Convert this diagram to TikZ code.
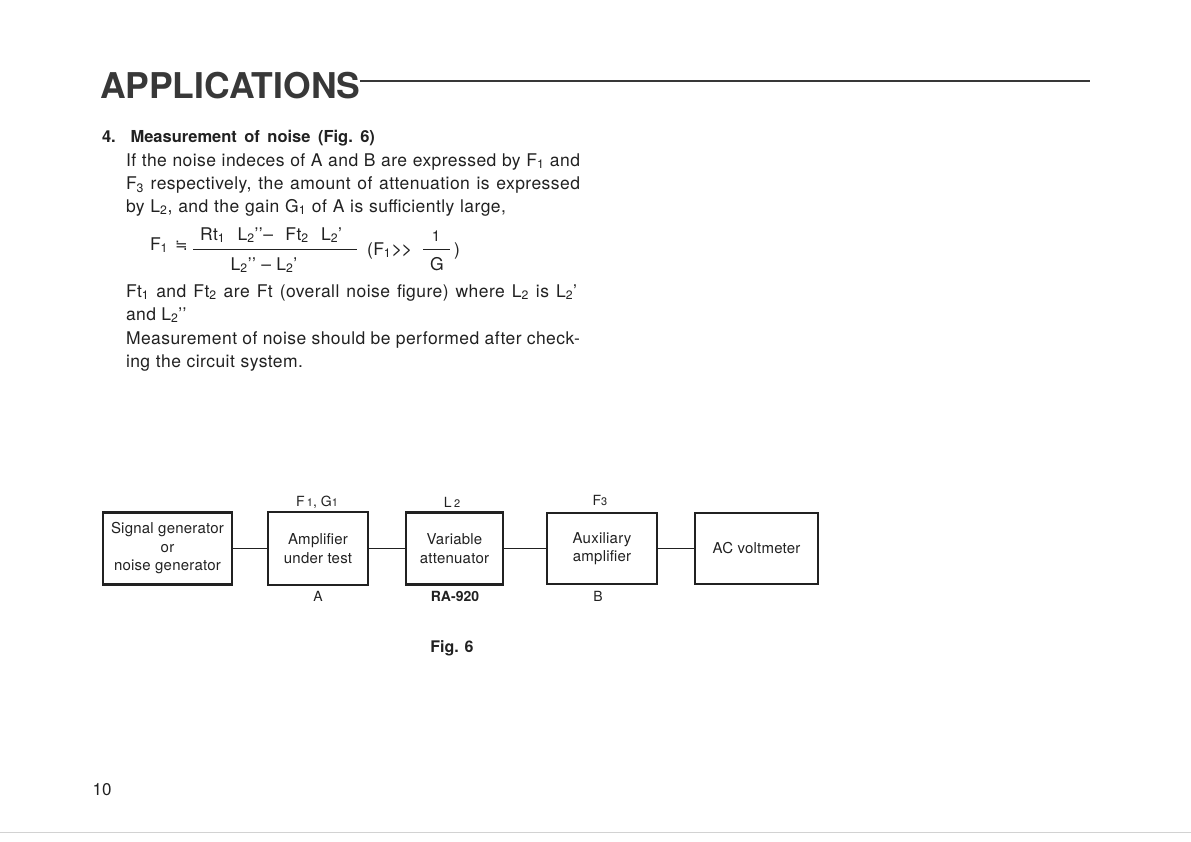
\documentclass[tikz,border=0pt]{standalone}
\usepackage{fontspec}
\setmainfont{TeX Gyre Heros}
\newfontfamily\bodyfont[LetterSpace=2.5]{TeX Gyre Heros}
\newfontfamily\boxfont[LetterSpace=1.5]{TeX Gyre Heros}
\newfontfamily\dejavu{DejaVu Sans}
\newcommand{\sbs}[1]{\textsubscript{#1}}
\definecolor{ink}{gray}{0.13}
\definecolor{titleink}{gray}{0.22}
\tikzset{
  every node/.style={inner sep=0pt, outer sep=0pt, text=ink},
  bodytext/.style={anchor=base west, font=\bodyfont\fontsize{17.5}{21}\selectfont},
  blockbox/.style={draw=ink, line width=2.3pt, align=center, inner sep=0pt,
    font=\boxfont\fontsize{15}{18.5}\selectfont},
  wire/.style={draw=ink, line width=1.4pt},
  blocklabel/.style={font=\boxfont\fontsize{14}{16}\selectfont},
}
\begin{document}
\begin{tikzpicture}[x=1pt,y=-1pt]
\useasboundingbox (0,0) rectangle (1191,841);

% title and rule
\node[anchor=base west, text=titleink, font=\bfseries\fontsize{35.5}{40}\selectfont] (title) at (100,98) {APPLICATIONS};
\coordinate (ruleend) at (1090,81);
\draw[titleink, line width=2.4pt] (title.east |- ruleend) -- (ruleend);

% heading
\node[anchor=base west, font=\bfseries\fontsize{16.5}{20}\selectfont] (head) at (102,142)
  {\makebox[273pt][s]{4. Measurement of noise (Fig.\ 6)}};

% body
\node[bodytext] (l1) at (126,166) {\makebox[454pt][s]{If the noise indeces of A and B are expressed by F\sbs{1} and}};
\node[bodytext] (l2) at (126,189.5) {\makebox[454pt][s]{F\sbs{3} respectively, the amount of attenuation is expressed}};
\node[bodytext] (l3) at (126,212) {\makebox[380pt][s]{by L\sbs{2}, and the gain G\sbs{1} of A is sufficiently large,}};

% formula
\node[bodytext] (fone) at (150,250) {F\sbs{1}};
\node[anchor=base west, font=\fontsize{15}{18}\selectfont] (approx) at (175,250) {{\dejavu ≒}};
\node[anchor=base, font=\bodyfont\fontsize{17.5}{21}\selectfont] (num) at (271,240)
  {\makebox[142pt][s]{Rt\sbs{1} L\sbs{2}’’– Ft\sbs{2} L\sbs{2}’}};
\coordinate (barl) at (193,249.5);
\coordinate (barr) at (357,249.5);
\draw[ink, line width=1.1pt] (barl) -- (barr);
\node[anchor=base, font=\bodyfont\fontsize{17.5}{21}\selectfont] (den) at (264,270)
  {L\sbs{2}’’ – L\sbs{2}’};
\node[bodytext] (cond) at (367,255) {(F\sbs{1}{\fontsize{19}{21}\selectfont >\kern-1pt>}};
\node[anchor=base, font=\fontsize{15}{18}\selectfont] (one) at (436,241) {1};
\coordinate (sbarl) at (423,249.5);
\coordinate (sbarr) at (450,249.5);
\draw[ink, line width=1.1pt] (sbarl) -- (sbarr);
\node[anchor=base, font=\bodyfont\fontsize{17.5}{21}\selectfont] (gee) at (437,270) {G};
\node[bodytext] (rpar) at (454,255) {)};

% body continued
\node[bodytext] (l4) at (126,297) {\makebox[451pt][s]{Ft\sbs{1} and Ft\sbs{2} are Ft (overall noise figure) where L\sbs{2} is L\sbs{2}’}};
\node[bodytext] (l5) at (126,320) {and L\sbs{2}’’};
\node[bodytext] (l6) at (126,344) {\makebox[454pt][s]{Measurement of noise should be performed after check-}};
\node[bodytext] (l7) at (126,367) {\makebox[177pt][s]{ing the circuit system.}};

% block diagram
\node[blockbox, minimum width=129pt, minimum height=72pt] (sig) at (167.5,548.5)
  {Signal generator\\or\\noise generator};
\node[blockbox, minimum width=100pt, minimum height=73pt] (amp) at (318,548.5)
  {Amplifier\\under test};
\node[blockbox, minimum width=97pt, minimum height=72pt] (att) at (454.5,548.5)
  {Variable\\attenuator};
\node[blockbox, minimum width=110pt, minimum height=71pt] (aux) at (602,548.5)
  {Auxiliary\\amplifier};
\node[blockbox, minimum width=123pt, minimum height=71pt] (acv) at (756.5,548.5)
  {AC voltmeter};

\draw[wire] (sig.east) -- (amp.west);
\draw[wire] (amp.east) -- (att.west);
\draw[wire] (att.east) -- (aux.west);
\draw[wire] (aux.east) -- (acv.west);

\node[blocklabel] (fg) at (317,502) {F\,{\fontsize{11}{12}\selectfont 1}, G{\fontsize{11}{12}\selectfont 1}};
\node[blocklabel] (ltwo) at (452,502) {L\,{\fontsize{11}{12}\selectfont 2}};
\node[blocklabel] (fthree) at (600,500) {F{\fontsize{11}{12}\selectfont 3}};
\node[blocklabel] (la) at (318,596) {A};
\node[blocklabel, font=\bfseries\fontsize{14}{16}\selectfont] (lra) at (455,596) {RA-920};
\node[blocklabel] (lb) at (598,596) {B};

\node[font=\bfseries\fontsize{16}{19}\selectfont] (fig) at (452,648) {Fig. 6};

% page number
\node[font=\fontsize{17}{20}\selectfont] (page) at (102,790) {10};

% faint scan edge
\coordinate (edgel) at (0,832);
\coordinate (edger) at (1191,832);
\draw[gray!35, line width=1pt] (edgel) -- (edger);
\end{tikzpicture}
\end{document}
